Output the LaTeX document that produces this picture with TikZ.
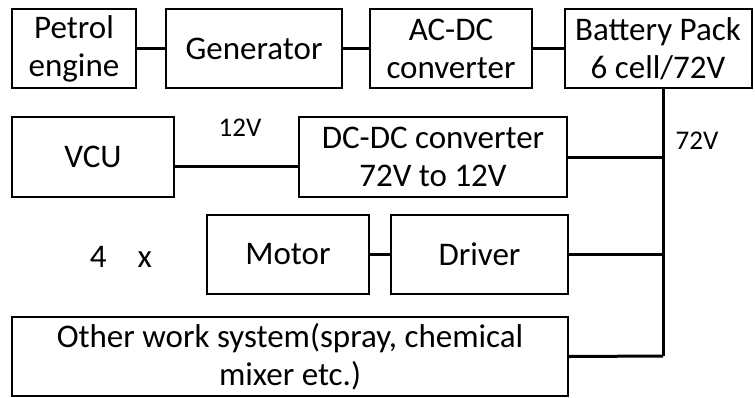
\documentclass[tikz,border=0pt]{standalone}
\usepackage{fontspec}
\setmainfont{Carlito}
\begin{document}
\begin{tikzpicture}[x=1pt,y=-1pt,
  blk/.style={draw,line width=2pt,inner sep=0pt,align=center,
    font=\fontsize{33}{38}\selectfont},
  wire/.style={line width=3pt},
  lbl/.style={inner sep=0pt,font=\fontsize{27}{30}\selectfont}]
\useasboundingbox (0,0) rectangle (755,397);
\node[blk,minimum width=124pt,minimum height=79pt] (pe) at (74,48.5) {Petrol\\engine};
\node[blk,minimum width=176pt,minimum height=79pt] (gen) at (254,48.5) {Generator};
\node[blk,minimum width=162pt,minimum height=79pt] (acdc) at (451,48.5) {AC-DC\\converter};
\node[blk,minimum width=187pt,minimum height=79pt] (bat) at (658,48.5) {Battery Pack\\6 cell/72V};
\node[blk,minimum width=162pt,minimum height=80pt] (vcu) at (93,157) {VCU};
\node[blk,minimum width=268pt,minimum height=80pt] (dcdc) at (433,157) {DC-DC converter\\72V to 12V};
\node[blk,minimum width=162pt,minimum height=79pt] (mot) at (288,254.5) {Motor};
\node[blk,minimum width=177pt,minimum height=79pt] (drv) at (479.5,254.5) {Driver};
\node[blk,minimum width=556pt,minimum height=79pt] (oth) at (290,356.5) {Other work system(spray, chemical\\mixer etc.)};
\node[lbl] (v12) at (240,128) {12V};
\node[lbl] (v72) at (697,141) {72V};
\node[inner sep=0pt,font=\fontsize{33}{38}\selectfont] (four) at (121,257) {4\hspace{31pt}x};
\coordinate (bt) at (663,88);
\coordinate (bb) at (663,356);
\draw[wire] (pe.east) -- (gen.west);
\draw[wire] (gen.east) -- (acdc.west);
\draw[wire] (acdc.east) -- (bat.west);
\draw[wire] (bt) -- (bb);
\draw[wire] ([yshift=-9pt]vcu.east) -- ([yshift=-9pt]vcu.east -| dcdc.west);
\draw[wire] (dcdc.east) -- (dcdc.east -| bt);
\draw[wire] (mot.east) -- (drv.west);
\draw[wire] (drv.east) -- (drv.east -| bt);
\draw[wire] (oth.east) -- (bb);
\end{tikzpicture}
\end{document}
